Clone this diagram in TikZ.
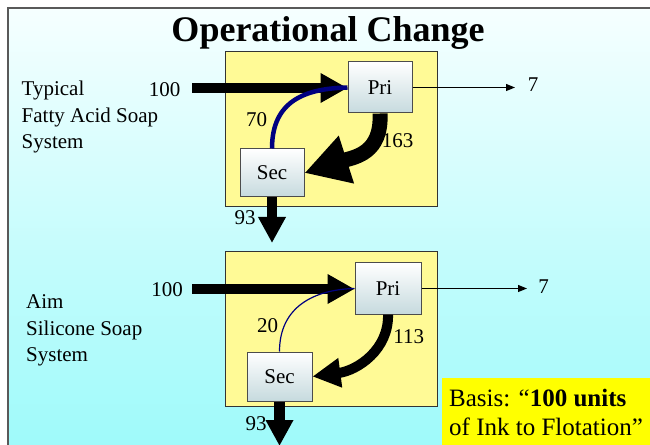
\documentclass[tikz,border=0pt]{standalone}
\usepackage{fontspec}
\setmainfont{Liberation Serif}
\usetikzlibrary{arrows.meta}
\definecolor{bgtop}{RGB}{246,255,255}
\definecolor{bgbot}{RGB}{158,250,250}
\definecolor{paleyel}{RGB}{255,250,150}
\definecolor{navyb}{RGB}{0,0,128}
\definecolor{boxbot}{RGB}{198,218,222}
\definecolor{basisyel}{RGB}{255,255,0}
\begin{document}
\begin{tikzpicture}[x=1bp,y=-1bp,
  lbl/.style={font=\fontsize{21bp}{26.5bp}\selectfont, inner sep=0pt, anchor=base},
  proc/.style={draw=black!70, line width=1bp, top color=white, bottom color=boxbot,
    inner sep=0pt, font=\fontsize{21bp}{25bp}\selectfont},
  unit/.style={draw=black!80, line width=0.8bp, fill=paleyel, inner sep=0pt, anchor=north west},
  feed/.style={line width=9.5bp, -{Triangle[length=27bp,width=28bp]}},
  recyc/.style={navyb, line width=#1},
  bigloop/.style={line width=#1},
  drop/.style={line width=10.5bp, -{Triangle[length=26bp,width=26bp]}},
  vent/.style={line width=1.1bp, -{Triangle[length=9bp,width=7bp]}}
]
\useasboundingbox (0,0) rectangle (650,445);
\fill[white] (0,0) rectangle (650,445);
\shade[top color=bgtop, bottom color=bgbot] (8,8) rectangle (652,447);
\draw[line width=1.5bp, black!65] (8,447) -- (8,8) -- (652,8);

\node[font=\fontsize{36bp}{40bp}\selectfont\bfseries, anchor=base, inner sep=0pt] (title) at (328,42) {Operational Change};

% ---------- upper system ----------
\node[unit, minimum width=212bp, minimum height=154.5bp] (u1) at (224.5,51) {};
\node[proc, minimum width=64bp, minimum height=51bp] (p1) at (380,87.5) {Pri};
\node[proc, minimum width=64bp, minimum height=48bp] (s1) at (272,173) {Sec};
\coordinate (in1) at (192,88);
\coordinate (out1) at (272,243);
\coordinate (v1) at (515,87.5);
\draw[feed] (in1) -- (in1 -| p1.west);
\draw[recyc=4.5bp] (s1.north) .. controls +(0,-48) and +(-42,1) .. (p1.west);
\draw[bigloop=15bp, -{Triangle[length=44bp,width=47bp]}] (p1.south) .. controls +(2,40) and +(50,-16) .. (s1.east);
\draw[drop] (s1.south) -- (out1);
\draw[vent] (p1.east) -- (v1);

\node[lbl] (l100a) at (164.5,97) {100};
\node[lbl] (l70) at (256.7,126.5) {70};
\node[lbl] (l163) at (397.5,148) {163};
\node[lbl] (l93a) at (245,225) {93};
\node[lbl] (l7a) at (533,92) {7};
\node[lbl, align=left, anchor=base west] (sys1) at (21.5,149) {Typical\\Fatty Acid Soap\\System};

% ---------- lower system ----------
\node[unit, minimum width=212bp, minimum height=155bp] (u2) at (224.5,251) {};
\node[proc, minimum width=66bp, minimum height=51bp] (p2) at (388,288.5) {Pri};
\node[proc, minimum width=65bp, minimum height=49bp] (s2) at (279.5,376.5) {Sec};
\coordinate (in2) at (192,289);
\coordinate (out2) at (279.5,446);
\coordinate (v2) at (527,288.5);
\draw[feed] (in2) -- (in2 -| p2.west);
\draw[recyc=1.2bp] (s2.north) .. controls +(0,-45) and +(-40,1) .. (p2.west);
\draw[bigloop=10bp, -{Triangle[length=28bp,width=28bp]}] (p2.south) .. controls +(1,35) and +(45,-6) .. (s2.east);
\draw[drop] (s2.south) -- (out2);
\draw[vent] (p2.east) -- (v2);

\node[lbl] (l100b) at (167,297) {100};
\node[lbl] (l20) at (267.5,332.7) {20};
\node[lbl] (l113) at (408.7,343) {113};
\node[lbl] (l93b) at (256,430) {93};
\node[lbl] (l7b) at (543.5,294) {7};
\node[lbl, align=left, anchor=base west] (sys2) at (26,361.7) {Aim\\Silicone Soap\\System};

% ---------- basis ----------
\fill[basisyel] (442,377.5) rectangle (652,447);
\node[font=\fontsize{25bp}{28.3bp}\selectfont, align=left, anchor=base west, inner sep=0pt] (basis) at (449,435) {Basis: “\textbf{100 units}\\of Ink to Flotation”};
\end{tikzpicture}
\end{document}
